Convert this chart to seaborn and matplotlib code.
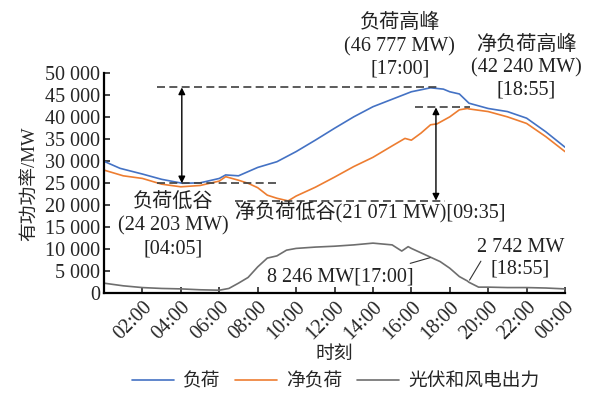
import numpy as np
import pandas as pd
import matplotlib
matplotlib.use('Agg')
import matplotlib.pyplot as plt
from matplotlib.ticker import FuncFormatter
import seaborn as sns

# load curve
load_t = ['00:00', '00:50', '02:00', '03:00', '04:05', '05:00', '06:00', '06:20', '07:00',
          '08:00', '09:00', '10:00', '11:00', '12:00', '13:00', '14:00', '15:00', '16:00',
          '17:00', '17:40', '18:00', '18:30', '19:00', '20:00', '21:00', '22:00', '23:00', '24:00']
load_v = [30000, 28400, 27100, 25900, 25000, 25100, 26100, 26900, 26700,
          28600, 29900, 32200, 34800, 37500, 40100, 42400, 44100, 45800,
          46700, 46400, 45800, 45300, 43200, 42000, 41300, 39800, 36700, 33200]

# net load curve
net_t = ['00:00', '01:00', '02:00', '03:00', '04:00', '05:00', '06:00', '06:20', '07:00',
         '07:30', '08:00', '08:30', '09:00', '09:35', '10:00', '11:00', '12:00', '13:00',
         '14:00', '15:00', '15:40', '16:00', '16:30', '17:00', '17:20', '18:00', '18:30',
         '18:55', '19:00', '20:00', '21:00', '22:00', '23:00', '24:00']
net_v = [28000, 26700, 26100, 24800, 24200, 24500, 25500, 26500, 25700,
         25000, 24000, 22300, 21600, 21000, 22100, 24100, 26400, 28800,
         30900, 33500, 35200, 34800, 36400, 38300, 38500, 40100, 41700,
         42000, 41900, 41300, 40100, 38600, 35600, 32200]

# PV + wind output
pv_t = ['00:00', '01:00', '02:00', '03:00', '04:00', '05:00', '06:00', '06:30', '07:00',
        '07:30', '08:00', '08:30', '09:00', '09:30', '10:00', '11:00', '12:00', '13:00',
        '14:00', '15:00', '15:30', '15:50', '16:00', '17:00', '17:30', '18:00', '18:30',
        '18:55', '19:00', '19:30', '20:00', '21:00', '22:00', '23:00', '24:00']
pv_v = [2300, 1700, 1300, 1100, 1000, 800, 700, 1100, 2300,
        3600, 6000, 8000, 8500, 9800, 10200, 10500, 10700, 11000,
        11400, 11000, 9600, 10600, 10200, 8200, 7200, 5700, 3800,
        2800, 2500, 1400, 1400, 1300, 1300, 1200, 1000]

series_names = ['负荷', '净负荷', '光伏和风电出力']
colors = ['#4472C4', '#ED7D31', '#6E6E6E']

xtick_hours = [2, 4, 6, 8, 10, 12, 14, 16, 18, 20, 22, 24]
xtick_labels = ['02:00', '04:00', '06:00', '08:00', '10:00', '12:00',
                '14:00', '16:00', '18:00', '20:00', '22:00', '00:00']


def to_hours(ts):
    return [int(s[:2]) + int(s[3:]) / 60.0 for s in ts]


frames = []
for name, t, v in zip(series_names, [load_t, net_t, pv_t], [load_v, net_v, pv_v]):
    frames.append(pd.DataFrame({'hour': to_hours(t), 'MW': v, 'series': name}))
df = pd.concat(frames, ignore_index=True)

sns.set_style('ticks')
plt.rcParams['font.family'] = ['Liberation Serif', 'Noto Sans CJK SC']
plt.rcParams['axes.unicode_minus'] = False
fs = 14.5

fig = plt.figure(figsize=(5.89, 3.94), dpi=100)
ax = fig.add_axes([0.1766, 0.2556, 0.7827, 0.5584])

sns.lineplot(data=df, x='hour', y='MW', hue='series', hue_order=series_names,
             palette=colors, linewidth=1.2, ax=ax, legend=True)

ax.set_xlim(0, 24)
ax.set_ylim(0, 50000)
ax.set_yticks(np.arange(0, 50001, 5000))
ax.yaxis.set_major_formatter(FuncFormatter(lambda v, p: f'{int(v):,}'.replace(',', ' ')))
ax.set_xticks(xtick_hours)
ax.set_xticklabels(xtick_labels, rotation=45, ha='right', rotation_mode='anchor')
ax.tick_params(direction='in', length=4, width=1.2, labelsize=fs, pad=3)
for s in ['left', 'bottom']:
    ax.spines[s].set_linewidth(1.6)
    ax.spines[s].set_color('black')
sns.despine(ax=ax)

ax.set_xlabel('时刻', fontsize=fs - 1, labelpad=2)
ax.set_ylabel('有功功率/MW', fontsize=fs - 1, labelpad=4)

# dashed reference levels and double arrows
dash = dict(color='#404040', lw=1.2, linestyle=(0, (4.8, 2.6)))
ax.plot([2.76, 17.5], [46777, 46777], **dash)
ax.plot([2.76, 9.0], [25000, 25000], **dash)
ax.plot([16.2, 19.06], [42240, 42240], **dash)
ax.plot([6.8, 17.76], [21071, 21071], **dash)
arr = dict(arrowstyle='<|-|>', color='black', lw=1.0, mutation_scale=10,
           shrinkA=0, shrinkB=0)
ax.annotate('', xy=(4.05, 46777), xytext=(4.05, 25000), arrowprops=arr)
ax.annotate('', xy=(17.28, 42240), xytext=(17.28, 21071), arrowprops=arr)

tc = '#222222'
ax.text(15.4, 56100, '负荷高峰\n(46 777 MW)\n[17:00]', ha='center', va='center',
        fontsize=fs, linespacing=1.25, color=tc, clip_on=False)
ax.text(22.0, 51300, '净负荷高峰\n(42 240 MW)\n[18:55]', ha='center', va='center',
        fontsize=fs, linespacing=1.25, color=tc, clip_on=False)
ax.text(3.6, 15300, '负荷低谷\n(24 203 MW)\n[04:05]', ha='center', va='center',
        fontsize=fs, linespacing=1.25, color=tc)
ax.text(6.82, 18250, '净负荷低谷(21 071 MW)[09:35]', ha='left', va='center',
        fontsize=fs, color=tc)
ax.text(8.49, 3700, '8 246 MW[17:00]', ha='left', va='center', fontsize=fs, color=tc)
ax.text(21.67, 7900, '2 742 MW\n[18:55]', ha='center', va='center',
        fontsize=fs, linespacing=1.2, color=tc)
ax.plot([15.94, 16.98], [6800, 8100], color='#333333', lw=0.8)
ax.plot([19.03, 19.62], [3000, 7300], color='#333333', lw=0.8)

handles, labels = ax.get_legend_handles_labels()
ax.legend_.remove()
fig.legend(handles, labels, loc='center', bbox_to_anchor=(0.57, 0.03), ncol=3,
           frameon=False, fontsize=fs - 1, handlelength=2.2, columnspacing=0.8,
           handletextpad=0.5, borderaxespad=0)

fig.savefig('out.png', dpi=100)
